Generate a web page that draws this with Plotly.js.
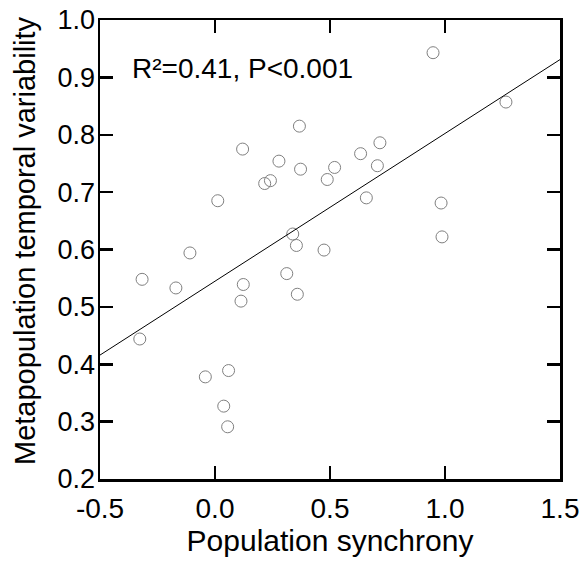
<!DOCTYPE html>
<html>
<head>
<meta charset="utf-8">
<script src="https://cdn.plot.ly/plotly-3.0.1.min.js"></script>
<style>html,body{margin:0;padding:0;background:#fff;}#chart{width:586px;height:561px;}</style>
</head>
<body>
<div id="chart"></div>
<script>
const synchrony = [0.120, 0.367, 0.278, 0.372, 0.216, 0.241, 0.520, 0.488, 0.012, 0.338, 0.354, 0.474, -0.109, 0.948, 1.265, 0.717, 0.633, 0.706, 0.658, 0.983, 0.987, -0.317, -0.170, -0.327, 0.123, 0.113, 0.312, 0.358, -0.042, 0.059, 0.038, 0.055];
const variability = [0.775, 0.815, 0.754, 0.740, 0.715, 0.720, 0.743, 0.722, 0.685, 0.627, 0.607, 0.599, 0.594, 0.943, 0.857, 0.786, 0.767, 0.746, 0.690, 0.681, 0.622, 0.548, 0.533, 0.444, 0.539, 0.510, 0.558, 0.522, 0.378, 0.389, 0.327, 0.291];
const fitX = [-0.5, 1.5];
const fitY = [0.416, 0.931];
const xTicks = [-0.5, 0.0, 0.5, 1.0, 1.5];
const xTickText = ["-0.5", "0.0", "0.5", "1.0", "1.5"];
const yTicks = [0.2, 0.3, 0.4, 0.5, 0.6, 0.7, 0.8, 0.9, 1.0];
const yTickText = ["0.2", "0.3", "0.4", "0.5", "0.6", "0.7", "0.8", "0.9", "1.0"];
const statText = "R²=0.41, P<0.001";
const xTitle = "Population synchrony";
const yTitle = "Metapopulation temporal variability";

const font = "Liberation Sans, Arial, sans-serif";
const data = [
  {x: synchrony, y: variability, type: 'scatter', mode: 'markers',
   marker: {symbol: 'circle-open', size: 12, color: '#808080', line: {width: 1, color: '#808080'}},
   hoverinfo: 'none', showlegend: false},
  {x: fitX, y: fitY, type: 'scatter', mode: 'lines',
   line: {color: '#000', width: 1}, hoverinfo: 'none', showlegend: false}
];
const axisCommon = {
  showgrid: false, zeroline: false, showline: true, linecolor: '#000', linewidth: 2.5,
  mirror: 'ticks', ticks: 'inside', ticklen: 13, tickwidth: 2.5, tickcolor: '#000',
  tickfont: {family: font, size: 27, color: '#000'}
};
const layout = {
  width: 586, height: 561,
  margin: {l: 100, r: 26, t: 20, b: 82},
  paper_bgcolor: '#fff', plot_bgcolor: '#fff',
  font: {family: font, color: '#000'},
  xaxis: Object.assign({}, axisCommon, {
    range: [-0.5, 1.5], tickmode: 'array', tickvals: xTicks, ticktext: xTickText, ticklabelstandoff: 3,
    tickfont: {family: font, size: 28, color: '#000'},
    title: {text: xTitle, font: {family: font, size: 30, color: '#000'}, standoff: 0}
  }),
  yaxis: Object.assign({}, axisCommon, {
    range: [0.2, 1.0], tickmode: 'array', tickvals: yTicks, ticktext: yTickText, ticklabelstandoff: -3
  }),
  annotations: [{
    x: -0.37, y: 0.916, xref: 'x', yref: 'y', xanchor: 'left', yanchor: 'middle',
    text: statText, showarrow: false, font: {family: font, size: 28, color: '#000'}
  }, {
    x: -0.163, y: 0.5185, xref: 'paper', yref: 'paper', xanchor: 'center', yanchor: 'middle',
    text: yTitle, textangle: -90, showarrow: false, font: {family: font, size: 29, color: '#000'}
  }]
};
Plotly.newPlot('chart', data, layout, {staticPlot: true, displayModeBar: false});
</script>
</body>
</html>
